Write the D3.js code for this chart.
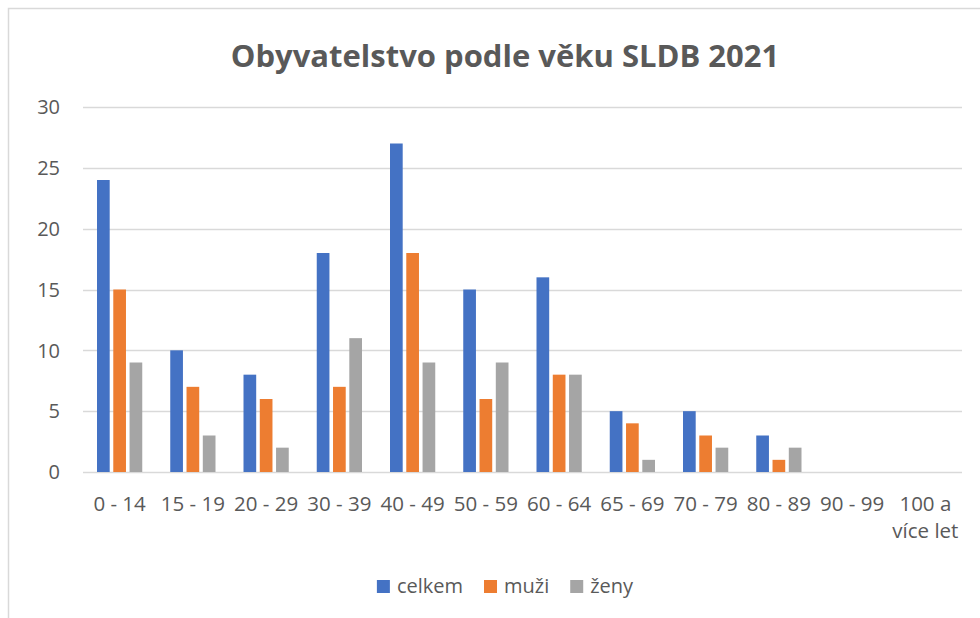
<!DOCTYPE html>
<html>
<head>
<meta charset="utf-8">
<script src="https://cdn.jsdelivr.net/npm/d3@7"></script>
<style>
  body { margin: 0; background: #fff; }
  text { font-family: "Open Sans", sans-serif; fill: #595959; }
</style>
</head>
<body>
<svg id="chart" width="980" height="618"></svg>
<script>
var categories = ['0 - 14', '15 - 19', '20 - 29', '30 - 39', '40 - 49', '50 - 59',
  '60 - 64', '65 - 69', '70 - 79', '80 - 89', '90 - 99', '100 a více let'];
var seriesNames = ['celkem', 'muži', 'ženy'];
var celkem = [24, 10, 8, 18, 27, 15, 16, 5, 5, 3, 0, 0];
var muzi   = [15, 7, 6, 7, 18, 6, 8, 4, 3, 1, 0, 0];
var zeny   = [9, 3, 2, 11, 9, 9, 8, 1, 2, 2, 0, 0];
var yTicks = [0, 5, 10, 15, 20, 25, 30];
var colors = ['#4472C4', '#ED7D31', '#A5A5A5'];

var values = [celkem, muzi, zeny];
var rows = categories.map(function(c, i) {
  return {cat: c, vals: seriesNames.map(function(s, j) { return {key: s, value: values[j][i]}; })};
});

var svg = d3.select('#chart');

// outer frame (only top and left edges visible)
svg.append('rect')
  .attr('x', 8.5).attr('y', 8.5)
  .attr('width', 1100).attr('height', 1100)
  .attr('fill', 'none')
  .attr('stroke', '#d9d9d9')
  .attr('stroke-width', 1.5);

svg.append('text')
  .attr('x', 505).attr('y', 67)
  .attr('text-anchor', 'middle')
  .style('font-size', '31px')
  .style('font-weight', 'bold')
  .text('Obyvatelstvo podle věku SLDB 2021');

var x0 = d3.scaleBand()
  .domain(categories)
  .range([83, 962])
  .paddingInner(1 / 3)
  .paddingOuter(1 / 6);

var x1 = d3.scaleBand()
  .domain(seriesNames)
  .range([0, x0.bandwidth()])
  .paddingInner(0.22)
  .paddingOuter(0.11);

var y = d3.scaleLinear()
  .domain([0, 30])
  .range([472, 107]);

// gridlines
svg.append('g')
  .selectAll('line')
  .data(yTicks)
  .join('line')
  .attr('x1', 83).attr('x2', 962)
  .attr('y1', function(d) { return Math.round(y(d)) + 0.5; })
  .attr('y2', function(d) { return Math.round(y(d)) + 0.5; })
  .attr('stroke', '#d9d9d9')
  .attr('stroke-width', 1.3);

// y labels
svg.append('g')
  .selectAll('text')
  .data(yTicks)
  .join('text')
  .attr('x', 60)
  .attr('y', function(d) { return y(d); })
  .attr('dy', '0.36em')
  .attr('text-anchor', 'end')
  .style('font-size', '20px')
  .text(function(d) { return d; });

// bars
var groups = svg.append('g')
  .selectAll('g.group')
  .data(rows)
  .join('g')
  .attr('class', 'group')
  .attr('transform', function(d) { return 'translate(' + x0(d.cat) + ',0)'; });

groups.selectAll('rect')
  .data(function(d) { return d.vals; })
  .join('rect')
  .attr('x', function(d) { return x1(d.key); })
  .attr('width', x1.bandwidth())
  .attr('y', function(d) { return y(d.value); })
  .attr('height', function(d) { return y(0) - y(d.value); })
  .attr('fill', function(d, i) { return colors[i]; });

// x labels, wrapped to the category width
var step = x0.step();
var xl = svg.append('g')
  .selectAll('text')
  .data(categories)
  .join('text')
  .attr('text-anchor', 'middle')
  .attr('x', function(d) { return x0(d) + x0.bandwidth() / 2; })
  .attr('y', 511)
  .style('font-size', '20.5px');

xl.each(function(d) {
  var el = d3.select(this);
  var cx = x0(d) + x0.bandwidth() / 2;
  var words = d.split(' ');
  var lines = [];
  var line = [];
  var probe = el.append('tspan');
  words.forEach(function(w) {
    line.push(w);
    probe.text(line.join(' '));
    if (probe.node().getComputedTextLength() > step && line.length > 1) {
      line.pop();
      lines.push(line.join(' '));
      line = [w];
    }
  });
  lines.push(line.join(' '));
  probe.remove();
  lines.forEach(function(l, i) {
    el.append('tspan')
      .attr('x', cx)
      .attr('dy', i === 0 ? 0 : 27)
      .text(l);
  });
});

// legend
var legend = svg.append('g');
var items = legend.selectAll('g')
  .data(seriesNames)
  .join('g');
items.append('rect')
  .attr('width', 13).attr('height', 13)
  .attr('y', 580)
  .attr('fill', function(d, i) { return colors[i]; });
items.append('text')
  .attr('x', 20)
  .attr('y', 593)
  .style('font-size', '20px')
  .text(function(d) { return d; });

var widths = [];
items.each(function() {
  widths.push(d3.select(this).select('text').node().getComputedTextLength() + 20);
});
var gap = 21;
var total = d3.sum(widths) + gap * (widths.length - 1);
var cursor = 505 - total / 2;
items.attr('transform', function(d, i) {
  var tx = cursor;
  cursor += widths[i] + gap;
  return 'translate(' + tx + ',0)';
});
</script>
</body>
</html>
